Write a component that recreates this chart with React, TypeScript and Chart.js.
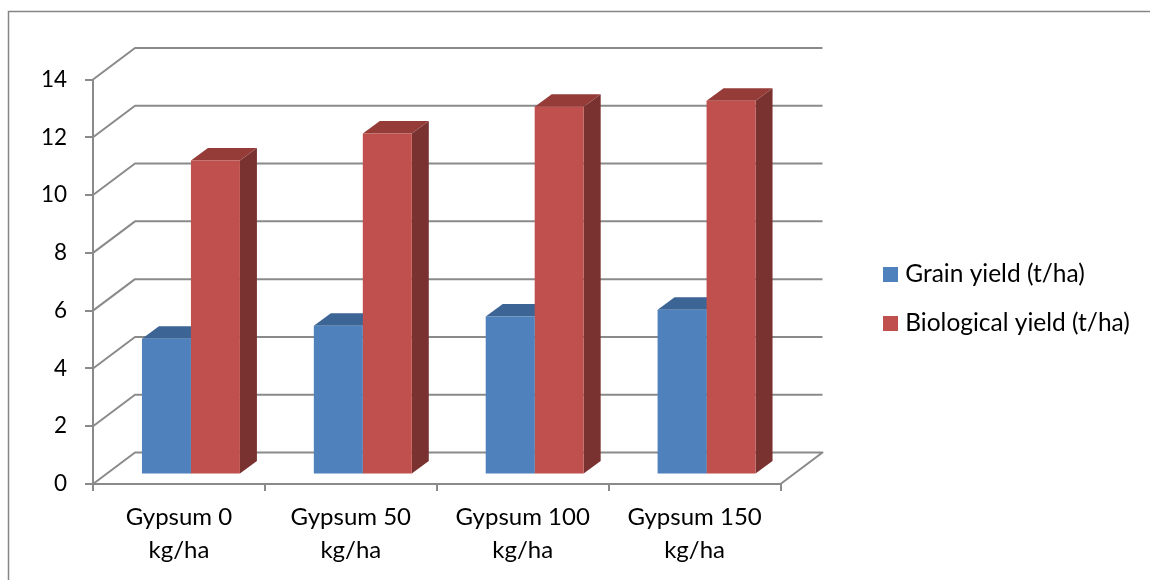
import React, { useEffect, useRef } from "react";
import { Chart, registerables } from "chart.js";

Chart.register(...registerables);

const categories = [["Gypsum 0", "kg/ha"], ["Gypsum 50", "kg/ha"], ["Gypsum 100", "kg/ha"], ["Gypsum 150", "kg/ha"]];
const grainYield = [4.7, 5.15, 5.47, 5.7];
const biologicalYield = [10.87, 11.8, 12.73, 12.94];
const seriesNames = ["Grain yield (t/ha)", "Biological yield (t/ha)"];
const frontColors = ["#4F81BD", "#C0504D"];
const topColors = ["#3C6595", "#953C39"];
const sideColors = ["#2F4F76", "#7A3230"];

const FONT = "Lato, Carlito, 'Open Sans', sans-serif";
const AXIS = "#8A8A8A";
const WALL = { dx: 42, dy: -31.5 };
const SHIFT = { dx: 12, dy: -9.5 };
const DEPTH = { dx: 17, dy: -12.5 };

function poly(ctx: CanvasRenderingContext2D, pts: number[][], fill: string) {
  ctx.beginPath();
  pts.forEach((p, i) => (i ? ctx.lineTo(p[0], p[1]) : ctx.moveTo(p[0], p[1])));
  ctx.closePath();
  ctx.fillStyle = fill;
  ctx.fill();
}

const frame3d = {
  id: "frame3d",
  afterLayout(chart: any) {
    const lg = chart.legend;
    const w = lg.width;
    const h = lg.height;
    lg.left = 863.5;
    lg.top = 237.75;
    lg.right = lg.left + w;
    lg.bottom = lg.top + h;
  },
  beforeDraw(chart: any) {
    const ctx = chart.ctx;
    ctx.save();
    ctx.strokeStyle = "#868686";
    ctx.lineWidth = 1.5;
    ctx.strokeRect(8.5, 11.5, 1300, 800);
    ctx.restore();
  },
  beforeDatasetsDraw(chart: any) {
    const ctx = chart.ctx;
    const { left, right } = chart.chartArea;
    const yScale = chart.scales.y;
    ctx.save();
    ctx.strokeStyle = AXIS;
    ctx.lineWidth = 2;
    ctx.lineJoin = "round";
    yScale.ticks.forEach((t: any) => {
      const y = yScale.getPixelForValue(t.value);
      ctx.beginPath();
      ctx.moveTo(left, y);
      ctx.lineTo(left + WALL.dx, y + WALL.dy);
      ctx.lineTo(right + WALL.dx, y + WALL.dy);
      if (t.value === 0) ctx.lineTo(right, y);
      ctx.stroke();
    });
    chart.getSortedVisibleDatasetMetas().forEach((meta: any, di: number) => {
      meta.data.forEach((bar: any) => {
        const x0 = bar.x - bar.width / 2 + SHIFT.dx;
        const x1 = bar.x + bar.width / 2 + SHIFT.dx;
        const yt = bar.y + SHIFT.dy;
        const yb = bar.base + SHIFT.dy;
        poly(ctx, [[x1, yt], [x1 + DEPTH.dx, yt + DEPTH.dy], [x1 + DEPTH.dx, yb + DEPTH.dy], [x1, yb]], sideColors[di]);
        poly(ctx, [[x0, yt], [x0 + DEPTH.dx, yt + DEPTH.dy], [x1 + DEPTH.dx, yt + DEPTH.dy], [x1, yt]], topColors[di]);
      });
    });
    ctx.restore();
    ctx.save();
    ctx.translate(SHIFT.dx, SHIFT.dy);
  },
  afterDatasetsDraw(chart: any) {
    chart.ctx.restore();
  },
};

export default function App() {
  const ref = useRef<HTMLCanvasElement>(null);
  useEffect(() => {
    const chart = new Chart(ref.current!, {
      type: "bar",
      data: {
        labels: categories,
        datasets: [
          { label: seriesNames[0], data: grainYield, backgroundColor: frontColors[0], clip: false },
          { label: seriesNames[1], data: biologicalYield, backgroundColor: frontColors[1], clip: false },
        ],
      } as any,
      options: {
        responsive: false,
        animation: false,
        devicePixelRatio: 1,
        layout: { autoPadding: false, padding: { left: 0, top: 79.5, right: 369.5, bottom: 0 } },
        datasets: { bar: { categoryPercentage: 0.57, barPercentage: 1 } },
        scales: {
          x: {
            afterFit: (s: any) => { s.height = 96; },
            border: { display: true, color: AXIS, width: 2 },
            grid: { drawOnChartArea: false, color: AXIS, tickColor: AXIS, tickLength: 7, lineWidth: 2 },
            ticks: {
              color: "#000",
              maxRotation: 0,
              autoSkip: false,
              padding: 9.5,
              font: { family: FONT, size: 24, lineHeight: 1.375 },
            },
          },
          y: {
            min: 0,
            max: 14,
            afterFit: (s: any) => { s.width = 93; },
            border: { display: true, color: AXIS, width: 2 },
            grid: { drawOnChartArea: false, color: AXIS, tickColor: AXIS, tickLength: 8, lineWidth: 2 },
            ticks: { stepSize: 2, color: "#000", padding: 18, font: { family: FONT, size: 22.5 } },
          },
        },
        plugins: {
          title: { display: false },
          tooltip: { enabled: false },
          legend: {
            position: "chartArea" as any,
            align: "start",
            labels: {
              color: "#000",
              font: { family: FONT, size: 24.5 },
              boxWidth: 5,
              boxHeight: 5,
              padding: 24.5,
              generateLabels: (c: any) =>
                c.data.datasets.map((d: any, i: number) => ({
                  text: d.label,
                  fillStyle: frontColors[i],
                  strokeStyle: frontColors[i],
                  lineWidth: 10,
                  datasetIndex: i,
                })),
            },
          },
        },
      },
      plugins: [frame3d],
    } as any);
    return () => chart.destroy();
  }, []);
  return (
    <div style={{ position: "fixed", left: 0, top: 0, width: 1150, height: 580, background: "#fff" }}>
      <canvas ref={ref} width={1150} height={580} style={{ display: "block" }} />
    </div>
  );
}
